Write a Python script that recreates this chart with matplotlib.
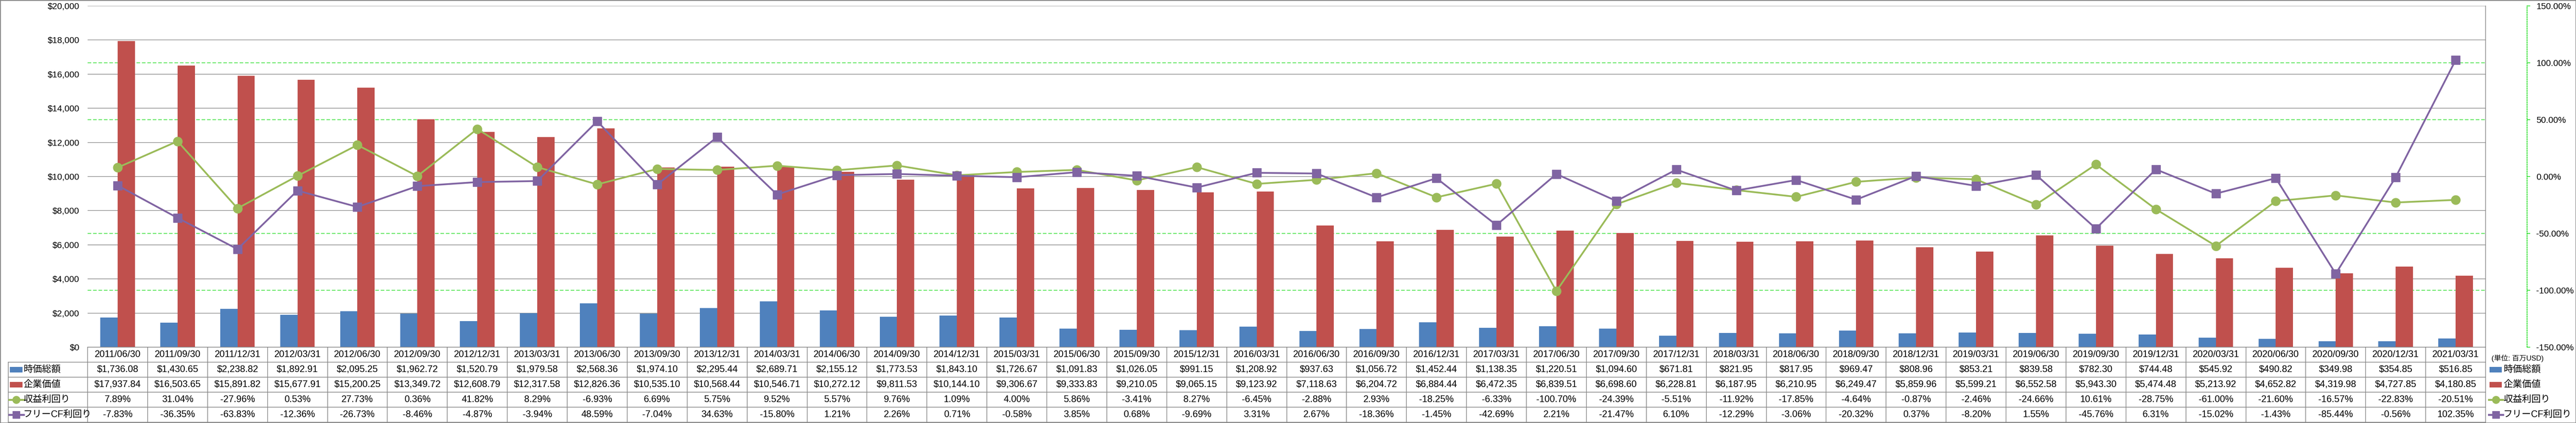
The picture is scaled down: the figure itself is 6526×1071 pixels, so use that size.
import matplotlib
matplotlib.use('Agg')
import matplotlib.pyplot as plt
import matplotlib.transforms as mtransforms
from matplotlib.lines import Line2D
from matplotlib.patches import Rectangle
from matplotlib.ticker import FuncFormatter
import numpy as np

# ---------------- data ----------------
dates = ['2011/06/30', '2011/09/30', '2011/12/31', '2012/03/31', '2012/06/30', '2012/09/30',
         '2012/12/31', '2013/03/31', '2013/06/30', '2013/09/30', '2013/12/31', '2014/03/31',
         '2014/06/30', '2014/09/30', '2014/12/31', '2015/03/31', '2015/06/30', '2015/09/30',
         '2015/12/31', '2016/03/31', '2016/06/30', '2016/09/30', '2016/12/31', '2017/03/31',
         '2017/06/30', '2017/09/30', '2017/12/31', '2018/03/31', '2018/06/30', '2018/09/30',
         '2018/12/31', '2019/03/31', '2019/06/30', '2019/09/30', '2019/12/31', '2020/03/31',
         '2020/06/30', '2020/09/30', '2020/12/31', '2021/03/31']
market_cap = [1736.08, 1430.65, 2238.82, 1892.91, 2095.25, 1962.72, 1520.79, 1979.58, 2568.36, 1974.10,
              2295.44, 2689.71, 2155.12, 1773.53, 1843.10, 1726.67, 1091.83, 1026.05, 991.15, 1208.92,
              937.63, 1056.72, 1452.44, 1138.35, 1220.51, 1094.60, 671.81, 821.95, 817.95, 969.47,
              808.96, 853.21, 839.58, 782.30, 744.48, 545.92, 490.82, 349.98, 354.85, 516.85]
enterprise_value = [17937.84, 16503.65, 15891.82, 15677.91, 15200.25, 13349.72, 12608.79, 12317.58, 12826.36, 10535.10,
                    10568.44, 10546.71, 10272.12, 9811.53, 10144.10, 9306.67, 9333.83, 9210.05, 9065.15, 9123.92,
                    7118.63, 6204.72, 6884.44, 6472.35, 6839.51, 6698.60, 6228.81, 6187.95, 6210.95, 6249.47,
                    5859.96, 5599.21, 6552.58, 5943.30, 5474.48, 5213.92, 4652.82, 4319.98, 4727.85, 4180.85]
earnings_yield = [7.89, 31.04, -27.96, 0.53, 27.73, 0.36, 41.82, 8.29, -6.93, 6.69,
                  5.75, 9.52, 5.57, 9.76, 1.09, 4.00, 5.86, -3.41, 8.27, -6.45,
                  -2.88, 2.93, -18.25, -6.33, -100.70, -24.39, -5.51, -11.92, -17.85, -4.64,
                  -0.87, -2.46, -24.66, 10.61, -28.75, -61.00, -21.60, -16.57, -22.83, -20.51]
fcf_yield = [-7.83, -36.35, -63.83, -12.36, -26.73, -8.46, -4.87, -3.94, 48.59, -7.04,
             34.63, -15.80, 1.21, 2.26, 0.71, -0.58, 3.85, 0.68, -9.69, 3.31,
             2.67, -18.36, -1.45, -42.69, 2.21, -21.47, 6.10, -12.29, -3.06, -20.32,
             0.37, -8.20, 1.55, -45.76, 6.31, -15.02, -1.43, -85.44, -0.56, 102.35]
series_names = ['時価総額', '企業価値', '収益利回り', 'フリーCF利回り']
unit_label = '(単位: 百万USD)'
usd_ticks = list(range(0, 20001, 2000))
pct_ticks = [-150, -100, -50, 0, 50, 100, 150]
pct_grid = [-100, -50, 50, 100]

# ---------------- style ----------------
BLUE = '#4F81BD'
RED = '#C0504D'
GREEN = '#9BBB59'
PURPLE = '#8064A2'
GRID = '#868686'
BRIGHT_GREEN = '#22DD22'
plt.rcParams['font.family'] = ['Liberation Sans', 'Noto Sans CJK JP', 'DejaVu Sans']
FS = 17      # table text
AFS = 16     # axis tick labels
LFS = 17     # series labels

W, H, DPI = 6526, 1071, 100
fig = plt.figure(figsize=(W / DPI, H / DPI), dpi=DPI)
fig.patch.set_facecolor('white')


def fx(px):
    return px / W


def fy(py):
    return 1 - py / H


L, R, T, B = 222, 6297, 15, 879
ax = fig.add_axes([fx(L), fy(B), fx(R) - fx(L), fy(T) - fy(B)])
n = len(dates)
x = np.arange(n)
ax.set_xlim(-0.5, n - 0.5)
ax.set_ylim(0, 20000)
ax.set_yticks(usd_ticks)
ax.yaxis.set_major_formatter(FuncFormatter(lambda v, p: f'${v:,.0f}'))
ax.yaxis.tick_right()
ax.tick_params(axis='y', length=0, pad=15, labelsize=AFS)
ax.tick_params(axis='x', bottom=False, labelbottom=False)
ax.grid(axis='y', color=GRID, lw=1.1)
ax.set_axisbelow(True)
for s in ['left', 'top', 'bottom']:
    ax.spines[s].set_visible(False)
ax.spines['right'].set_color(GRID)
ax.spines['right'].set_linewidth(1.2)

bw = 0.288
ax.bar(x - bw / 2, market_cap, bw, color=BLUE, zorder=2)
ax.bar(x + bw / 2, enterprise_value, bw, color=RED, zorder=2)

ax2 = ax.twinx()
ax2.set_ylim(-150, 150)
ax2.set_yticks(pct_ticks)
ax2.yaxis.set_major_formatter(FuncFormatter(lambda v, p: f'{v:.2f}%'))
ax2.tick_params(axis='y', direction='out', length=6, width=1.3, color=BRIGHT_GREEN,
                pad=10.5, labelsize=AFS)
for lab, v in zip(ax2.get_yticklabels(), pct_ticks):
    lab.set_color('#FF0000' if v < 0 else 'black')
for s in ['left', 'top', 'bottom']:
    ax2.spines[s].set_visible(False)
ax2.spines['right'].set_position(('outward', 75.5))
ax2.spines['right'].set_color(BRIGHT_GREEN)
ax2.spines['right'].set_linestyle((0, (1.5, 1.5)))
ax2.spines['right'].set_linewidth(1.4)

# secondary-axis dashed gridlines drawn behind bars
gtrans = mtransforms.blended_transform_factory(ax.transAxes, ax2.transData)
for g in pct_grid:
    ax.add_line(Line2D([0, 1], [g, g], transform=gtrans, color=BRIGHT_GREEN, lw=1.1,
                       ls=(0, (6, 3)), zorder=1))

ax2.plot(x, earnings_yield, color=GREEN, lw=3.2, marker='o', ms=16.5, zorder=3)
ax2.plot(x, fcf_yield, color=PURPLE, lw=3.2, marker='s', ms=15.5, zorder=4)

# ---------------- data table ----------------
tb = mtransforms.blended_transform_factory(ax.transData, fig.transFigure)
row_edges = [879, 917, 955, 993, 1031, 1069]
TL = 21
fig.add_artist(Line2D([-0.5, n - 0.5], [fy(row_edges[0])] * 2, transform=tb, color=GRID, lw=1.2))
for ye in row_edges[1:]:
    fig.add_artist(Line2D([fx(TL), fx(R)], [fy(ye)] * 2, transform=fig.transFigure, color=GRID, lw=1.2))
for i in range(n + 1):
    fig.add_artist(Line2D([i - 0.5, i - 0.5], [fy(row_edges[0]), fy(row_edges[-1])], transform=tb,
                          color=GRID, lw=1.2))
fig.add_artist(Line2D([fx(TL), fx(TL)], [fy(row_edges[1]), fy(row_edges[-1])], transform=fig.transFigure,
                      color=GRID, lw=1.2))

rows_text = [dates,
             [f'${v:,.2f}' for v in market_cap],
             [f'${v:,.2f}' for v in enterprise_value],
             [f'{v:.2f}%' for v in earnings_yield],
             [f'{v:.2f}%' for v in fcf_yield]]
for r, vals in enumerate(rows_text):
    yc = fy((row_edges[r] + row_edges[r + 1]) / 2)
    for i, s in enumerate(vals):
        fig.text(i, yc, s, transform=tb, ha='center', va='center', fontsize=FS)


def draw_key(kind, x0, x1, yc, color):
    if kind == 'bar':
        fig.add_artist(Rectangle((fx(x0), yc - 7 / H), fx(x1) - fx(x0), 14 / H, transform=fig.transFigure,
                                 facecolor=color, edgecolor='none'))
    else:
        fig.add_artist(Line2D([fx(x0 - 2), fx(x1 + 3)], [yc, yc], transform=fig.transFigure, color=color,
                              lw=3.5))
        fig.add_artist(Line2D([fx((x0 + x1) / 2)], [yc], transform=fig.transFigure, color=color,
                              marker=kind, ms=13.5, lw=0))


kinds = ['bar', 'bar', 'o', 's']
colors = [BLUE, RED, GREEN, PURPLE]
for r in range(4):
    yc = fy((row_edges[r + 1] + row_edges[r + 2]) / 2)
    draw_key(kinds[r], 25, 57, yc, colors[r])
    fig.text(fx(59), yc, series_names[r], ha='left', va='center', fontsize=LFS)
    # right-side legend
    draw_key(kinds[r], 6307, 6338, yc, colors[r])
    fig.text(fx(6342), yc, series_names[r], ha='left', va='center', fontsize=LFS)

fig.text(fx(6312), fy(907), unit_label, ha='left', va='center', fontsize=13)

# outer border
fig.add_artist(Rectangle((0, 0), 1, 1, transform=fig.transFigure, facecolor='none',
                         edgecolor=GRID, lw=2.5))

fig.savefig('out.png', dpi=DPI)
